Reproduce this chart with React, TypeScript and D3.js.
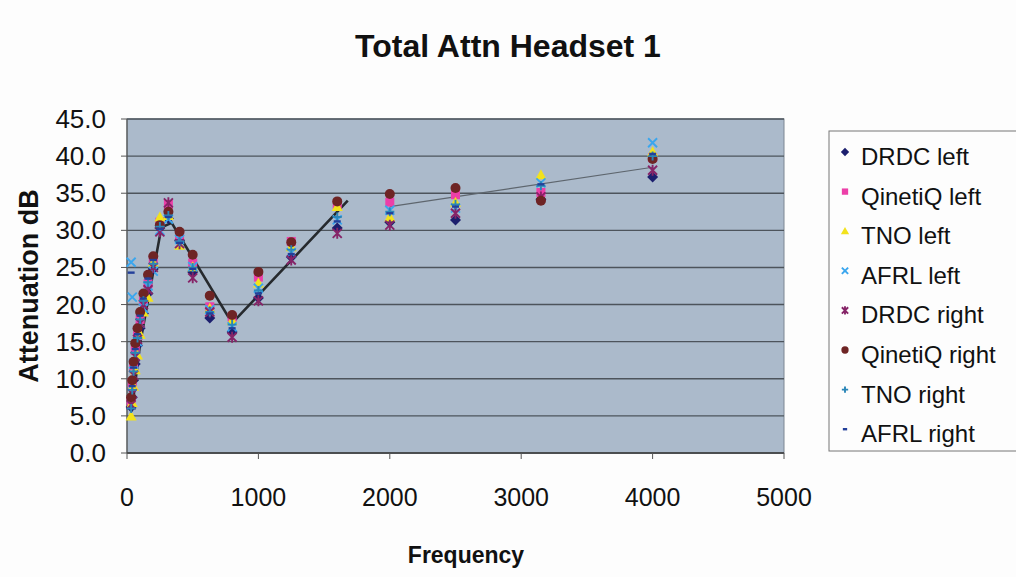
import React from "react";
import * as d3 from "d3";

const freqs = [31.5, 40, 50, 63, 80, 100, 125, 160, 200, 250, 315, 400, 500, 630, 800, 1000, 1250, 1600, 2000, 2500, 3150, 4000];

const drdcLeft = [6.2, 7.5, 9.8, 12.0, 14.5, 16.8, 18.8, 21.5, 24.8, 30.3, 31.6, 28.6, 24.4, 18.2, 16.3, 20.9, 26.4, 30.3, 31.1, 31.4, 34.2, 37.2];
const qinetiqLeft = [7.0, 9.5, 11.8, 13.8, 15.8, 18.0, 20.5, 22.8, 26.0, 31.1, 33.5, 29.4, 25.6, 19.7, 18.3, 23.7, 28.5, 33.5, 33.8, 34.8, 35.1, 39.8];
const tnoLeft = [5.0, 6.8, 9.0, 11.2, 13.2, 16.0, 19.0, 21.0, 25.7, 31.8, 32.0, 28.0, 25.1, 19.5, 17.9, 22.9, 27.8, 33.2, 31.8, 33.8, 37.5, 40.6];
const afrlLeft = [25.7, 21.0, 12.0, 13.0, 15.0, 17.5, 19.5, 22.5, 24.5, 30.0, 31.5, 28.8, 25.1, 19.3, 17.0, 22.2, 27.0, 31.4, 32.7, 33.0, 36.4, 41.8];
const drdcRight = [6.5, 8.0, 10.5, 13.0, 15.3, 17.5, 20.0, 22.0, 25.0, 29.8, 33.7, 28.2, 23.6, 19.0, 15.6, 20.5, 26.0, 29.6, 30.7, 32.3, 34.5, 38.1];
const qinetiqRight = [7.5, 9.8, 12.3, 14.8, 16.8, 19.0, 21.5, 24.0, 26.5, 30.7, 32.5, 29.8, 26.7, 21.2, 18.6, 24.4, 28.4, 33.9, 34.9, 35.7, 34.0, 39.6];
const tnoRight = [6.0, 8.5, 11.0, 13.5, 15.5, 18.0, 20.5, 23.0, 25.5, 30.5, 32.0, 28.5, 25.0, 19.0, 17.3, 21.9, 27.4, 31.8, 32.5, 33.5, 36.0, 40.0];
const afrlRight = [24.3, 9.0, 11.5, 14.0, 16.0, 18.5, 20.8, 23.5, 26.0, 30.2, 31.8, 28.3, 24.8, 18.8, 16.8, 21.5, 26.8, 31.2, 32.3, 33.2, 36.2, 40.3];

const seriesNames = ["DRDC left", "QinetiQ left", "TNO left", "AFRL left", "DRDC right", "QinetiQ right", "TNO right", "AFRL right"];
const seriesValues = [drdcLeft, qinetiqLeft, tnoLeft, afrlLeft, drdcRight, qinetiqRight, tnoRight, afrlRight];
const seriesColors = ["#1c1f6e", "#ec3fa8", "#f2e21c", "#3aa6ee", "#862468", "#6e2424", "#2a86b8", "#23409a"];
const seriesShapes = ["diamond", "square", "triangle", "x", "star", "circle", "plus", "dash"];

// hand-drawn trend lines (frequency, dB)
const trendFreq = [36, 100, 262, 340, 800, 1680];
const trendVal = [5.6, 14.8, 30.4, 31.0, 17.5, 34.0];
const trend2Freq = [2000, 4000];
const trend2Val = [33.2, 38.5];

const xTicks = [0, 1000, 2000, 3000, 4000, 5000];
const yTicks = [0, 5, 10, 15, 20, 25, 30, 35, 40, 45];

const W = 1016, H = 577;
const plot = { l: 127, r: 784, t: 119, b: 453 };

function Marker({ shape, color, x, y, s = 1 }: { shape: string; color: string; x: number; y: number; s?: number }) {
  const r = 4.5 * s;
  switch (shape) {
    case "diamond":
      return <path d={`M${x},${y - r - 1}L${x + r + 1},${y}L${x},${y + r + 1}L${x - r - 1},${y}Z`} fill={color} />;
    case "square":
      return <rect x={x - r} y={y - r} width={2 * r} height={2 * r} fill={color} />;
    case "triangle":
      return <path d={`M${x},${y - r - 1}L${x + r + 1},${y + r}L${x - r - 1},${y + r}Z`} fill={color} />;
    case "x":
      return <path d={`M${x - r},${y - r}L${x + r},${y + r}M${x - r},${y + r}L${x + r},${y - r}`} stroke={color} strokeWidth={1.9} />;
    case "star":
      return (
        <path
          d={`M${x - r},${y - r}L${x + r},${y + r}M${x - r},${y + r}L${x + r},${y - r}M${x},${y - r - 1}L${x},${y + r + 1}`}
          stroke={color}
          strokeWidth={1.9}
        />
      );
    case "circle":
      return <circle cx={x} cy={y} r={r + 0.5} fill={color} />;
    case "plus":
      return <path d={`M${x - r},${y}L${x + r},${y}M${x},${y - r}L${x},${y + r}`} stroke={color} strokeWidth={1.9} />;
    case "dash":
      return <path d={`M${x - r + 1},${y}L${x + r - 1},${y}`} stroke={color} strokeWidth={2.4} />;
    default:
      return null;
  }
}

export default function App() {
  const x = d3.scaleLinear().domain([0, 5000]).range([plot.l, plot.r]);
  const y = d3.scaleLinear().domain([0, 45]).range([plot.b, plot.t]);
  const line = d3.line<number>().x((_, i) => x(trendFreq[i])).y((v) => y(v));
  const line2 = d3.line<number>().x((_, i) => x(trend2Freq[i])).y((v) => y(v));
  const font = "'Liberation Sans', Arial, sans-serif";
  const legendY0 = 157;
  const legendStep = 39.6;

  return (
    <svg width={W} height={H} style={{ position: "absolute", left: 0, top: 0, background: "#fdfdfd" }} fontFamily={font}>
      <text x={508} y={57} textAnchor="middle" fontSize={32} fontWeight="bold" fill="#111">
        Total Attn Headset 1
      </text>

      <rect x={plot.l} y={plot.t} width={plot.r - plot.l} height={plot.b - plot.t} fill="#abbacb" stroke="#7d8792" strokeWidth={1} />
      {yTicks.map((t) => (
        <g key={t}>
          <line x1={plot.l} x2={plot.r} y1={y(t)} y2={y(t)} stroke="#4d545c" strokeWidth={1.4} />
          <line x1={plot.l - 6} x2={plot.l} y1={y(t)} y2={y(t)} stroke="#555" strokeWidth={1} />
          <text x={106} y={y(t) + 9} textAnchor="end" fontSize={26} fill="#111">
            {t.toFixed(1)}
          </text>
        </g>
      ))}
      <line x1={plot.l} x2={plot.l} y1={plot.t} y2={plot.b} stroke="#555" strokeWidth={1.2} />
      <line x1={plot.l} x2={plot.r} y1={plot.b} y2={plot.b} stroke="#444" strokeWidth={1.4} />
      {xTicks.map((t) => (
        <g key={t}>
          <line x1={x(t)} x2={x(t)} y1={plot.b} y2={plot.b + 6} stroke="#555" strokeWidth={1} />
          <text x={x(t)} y={506} textAnchor="middle" fontSize={25} fill="#111">
            {t}
          </text>
        </g>
      ))}

      <path d={line(trendVal) || ""} fill="none" stroke="#262a2e" strokeWidth={2.6} />
      <path d={line2(trend2Val) || ""} fill="none" stroke="#5e666e" strokeWidth={1.2} />

      {seriesValues.map((vals, si) => (
        <g key={si}>
          {vals.map((v, i) => (
            <Marker key={i} shape={seriesShapes[si]} color={seriesColors[si]} x={x(freqs[i])} y={y(v)} />
          ))}
        </g>
      ))}

      <text x={466} y={563} textAnchor="middle" fontSize={23} fontWeight="bold" fill="#111">
        Frequency
      </text>
      <text transform="translate(38,286) rotate(-90)" textAnchor="middle" fontSize={27} fontWeight="bold" fill="#111">
        Attenuation dB
      </text>

      <rect x={829} y={131} width={200} height={320} fill="#fdfdfd" stroke="#777" strokeWidth={1} />
      {seriesNames.map((n, i) => (
        <g key={n}>
          <Marker shape={seriesShapes[i]} color={seriesColors[i]} x={845} y={legendY0 + i * legendStep - 5} s={0.7} />
          <text x={861} y={legendY0 + i * legendStep + 8} fontSize={24} fill="#111">
            {n}
          </text>
        </g>
      ))}
    </svg>
  );
}
